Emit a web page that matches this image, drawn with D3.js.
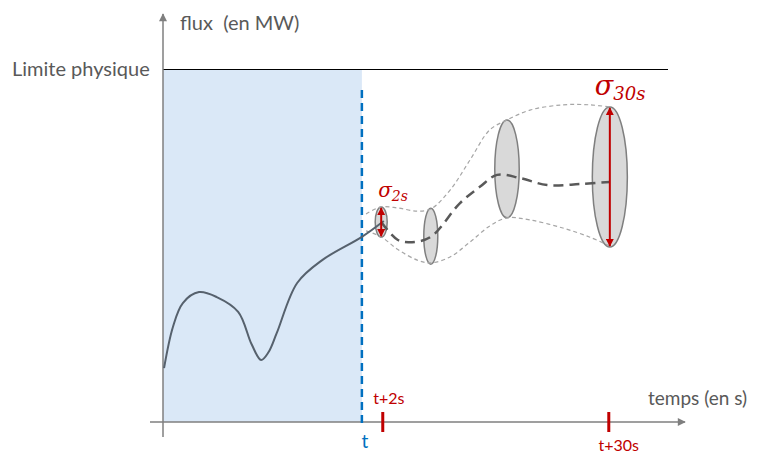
<!DOCTYPE html>
<html>
<head>
<meta charset="utf-8">
<script src="https://cdn.jsdelivr.net/npm/d3@7"></script>
<style>
  body { margin: 0; background: #fff; }
  text { font-family: Lato, "Open Sans", sans-serif; }
</style>
</head>
<body>
<div id="chart"></div>
<script>
// time runs 0..100 (arbitrary), flux 0..100 with the physical limit at 100
const nowTime = 38.1
const horizonTimes = [42.1, 85.4]
const horizonLabels = ["t+2s", "t+30s"]
const sigmaLabels = ["2s", "30s"]
const limitFlux = 100

// observed flux, before t
const pastTime = [0.2, 1.9, 3.8, 6.9, 10.3, 14.4, 17.0, 18.8, 20.2, 21.8, 25.7, 30.5, 38.1, 42.3]
const pastFlux = [15.3, 27.0, 33.8, 36.9, 35.5, 31.3, 22.0, 17.6, 19.8, 25.3, 39.5, 46.0, 52.6, 57.1]

// expected forecast (dashed)
const forecastTime = [41.8, 45.0, 47.7, 51.3, 56.9, 60.7, 64.0, 68.4, 73.6, 79.9, 85.6]
const forecastFlux = [56.8, 51.7, 51.1, 52.6, 62.2, 66.8, 70.2, 69.3, 67.3, 67.6, 68.2]

// envelope of the forecast
const bandTime = [38.9, 41.8, 45.0, 48.7, 51.3, 55.0, 58.8, 62.6, 65.9, 70.3, 76.6, 81.8, 85.6]
const bandUpper = [59.1, 61.1, 60.8, 59.9, 60.5, 65.9, 74.4, 83.0, 85.8, 88.6, 90.1, 90.1, 89.5]
const bandLower = [54.3, 52.6, 49.0, 46.0, 45.2, 46.9, 51.1, 55.7, 58.0, 57.4, 55.1, 52.5, 50.0]

// uncertainty ellipses
const spreadTime = [41.8, 51.3, 65.9, 85.6]
const spreadMean = [56.8, 52.8, 71.9, 69.6]
const spreadHalf = [4.3, 7.95, 13.9, 19.9]
const sigmaIndex = [0, 3]

const W = 760, H = 455
const RED = "#c00000"
const GREY = "#595959"

const x = d3.scaleLinear().domain([0, 100]).range([163, 685])
const y = d3.scaleLinear().domain([0, limitFlux]).range([422, 70])

const svg = d3.select("#chart").append("svg")
    .attr("width", W)
    .attr("height", H)

const defs = svg.append("defs")
function marker(id, color, w, h, orient) {
    defs.append("marker")
        .attr("id", id)
        .attr("viewBox", "0 0 10 10")
        .attr("refX", 9).attr("refY", 5)
        .attr("markerWidth", w).attr("markerHeight", h)
        .attr("markerUnits", "userSpaceOnUse")
        .attr("orient", orient)
      .append("path")
        .attr("d", "M0,0 L10,5 L0,10 z")
        .attr("fill", color)
}
marker("axisArrow", "#7f7f7f", 9, 8, "auto")
marker("redArrow", RED, 8, 8, "auto-start-reverse")

// shaded past
svg.append("rect")
    .attr("x", x(0))
    .attr("y", y(limitFlux))
    .attr("width", x(nowTime) - x(0))
    .attr("height", y(0) - y(limitFlux))
    .attr("fill", "#dae8f7")

// limit line
svg.append("line")
    .attr("x1", x(0)).attr("x2", 668)
    .attr("y1", y(limitFlux) - 0.5).attr("y2", y(limitFlux) - 0.5)
    .attr("stroke", "#000").attr("stroke-width", 1)

// axes
svg.append("line")
    .attr("x1", x(0)).attr("x2", x(0))
    .attr("y1", 437).attr("y2", 14)
    .attr("stroke", "#7f7f7f").attr("stroke-width", 1.5)
    .attr("marker-end", "url(#axisArrow)")
svg.append("line")
    .attr("x1", 150).attr("x2", x(100))
    .attr("y1", y(0)).attr("y2", y(0))
    .attr("stroke", "#7f7f7f").attr("stroke-width", 1.5)
    .attr("marker-end", "url(#axisArrow)")

// now line
svg.append("line")
    .attr("x1", x(nowTime)).attr("x2", x(nowTime))
    .attr("y1", 90).attr("y2", 426)
    .attr("stroke", "#0070c0").attr("stroke-width", 2.5)
    .attr("stroke-dasharray", "8,5")

// horizon ticks
svg.selectAll(".htick")
    .data(horizonTimes)
    .join("line")
        .attr("x1", d => x(d)).attr("x2", d => x(d))
        .attr("y1", 412).attr("y2", 432)
        .attr("stroke", RED).attr("stroke-width", 3)

// ellipses
const ellipses = spreadTime.map((t, i) => ({ t: t, m: spreadMean[i], s: spreadHalf[i] }))
svg.selectAll(".spread")
    .data(ellipses)
    .join("ellipse")
        .attr("cx", d => x(d.t))
        .attr("cy", d => y(d.m))
        .attr("rx", d => Math.max(6, (y(0) - y(d.s)) / 4))
        .attr("ry", d => y(0) - y(d.s))
        .attr("fill", "#d9d9d9")
        .attr("stroke", "#7f7f7f")
        .attr("stroke-width", 1.5)

const line = d3.line()
    .x(d => x(d[0]))
    .y(d => y(d[1]))
    .curve(d3.curveCatmullRom.alpha(0.5))

// envelope
;[bandUpper, bandLower].forEach(b => {
    svg.append("path")
        .attr("d", line(d3.zip(bandTime, b)))
        .attr("fill", "none").attr("stroke", "#a6a6a6")
        .attr("stroke-width", 1.2).attr("stroke-dasharray", "4,3")
})

// past flux
svg.append("path")
    .attr("d", line(d3.zip(pastTime, pastFlux)))
    .attr("fill", "none").attr("stroke", "#56616d")
    .attr("stroke-width", 2)

// forecast
svg.append("path")
    .attr("d", line(d3.zip(forecastTime, forecastFlux)))
    .attr("fill", "none").attr("stroke", GREY)
    .attr("stroke-width", 2.5).attr("stroke-dasharray", "10,6")

// sigma arrows
sigmaIndex.forEach((k, j) => {
    let e = ellipses[k]
    svg.append("line")
        .attr("x1", x(e.t)).attr("x2", x(e.t))
        .attr("y1", y(e.m + e.s) + 1).attr("y2", y(e.m - e.s) - 1)
        .attr("stroke", RED).attr("stroke-width", 2)
        .attr("marker-start", "url(#redArrow)")
        .attr("marker-end", "url(#redArrow)")

    let big = j === 1
    let lbl = svg.append("text")
        .attr("x", x(e.t) + (big ? -15 : -3))
        .attr("y", y(e.m + e.s) - (big ? 12 : 10))
        .attr("fill", RED)
        .style("font-family", "'DejaVu Serif', serif")
        .style("font-style", "italic")
    lbl.append("tspan")
        .attr("font-size", big ? 27 : 20)
        .text("σ")
    lbl.append("tspan")
        .attr("font-size", big ? 18 : 14)
        .attr("dy", big ? 5 : 4)
        .text(sigmaLabels[j])
})

// labels
svg.append("text")
    .attr("x", 180).attr("y", 30)
    .attr("font-size", 20).attr("fill", GREY)
    .attr("xml:space", "preserve")
    .text("flux  (en MW)")
svg.append("text")
    .attr("x", 12).attr("y", 76)
    .attr("font-size", 20).attr("fill", GREY)
    .text("Limite physique")
svg.append("text")
    .attr("x", 648).attr("y", 405)
    .attr("font-size", 19).attr("fill", GREY)
    .text("temps (en s)")
svg.append("text")
    .attr("x", x(nowTime) + 3).attr("y", 448)
    .attr("text-anchor", "middle")
    .attr("font-size", 19).attr("fill", "#0070c0")
    .text("t")
svg.selectAll(".hlabel")
    .data(horizonTimes)
    .join("text")
        .attr("x", (d, i) => x(d) + (i === 0 ? 6 : 10))
        .attr("y", (d, i) => i === 0 ? 404 : 451)
        .attr("text-anchor", "middle")
        .attr("font-size", 16)
        .attr("fill", RED)
        .text((d, i) => horizonLabels[i])
</script>
</body>
</html>
